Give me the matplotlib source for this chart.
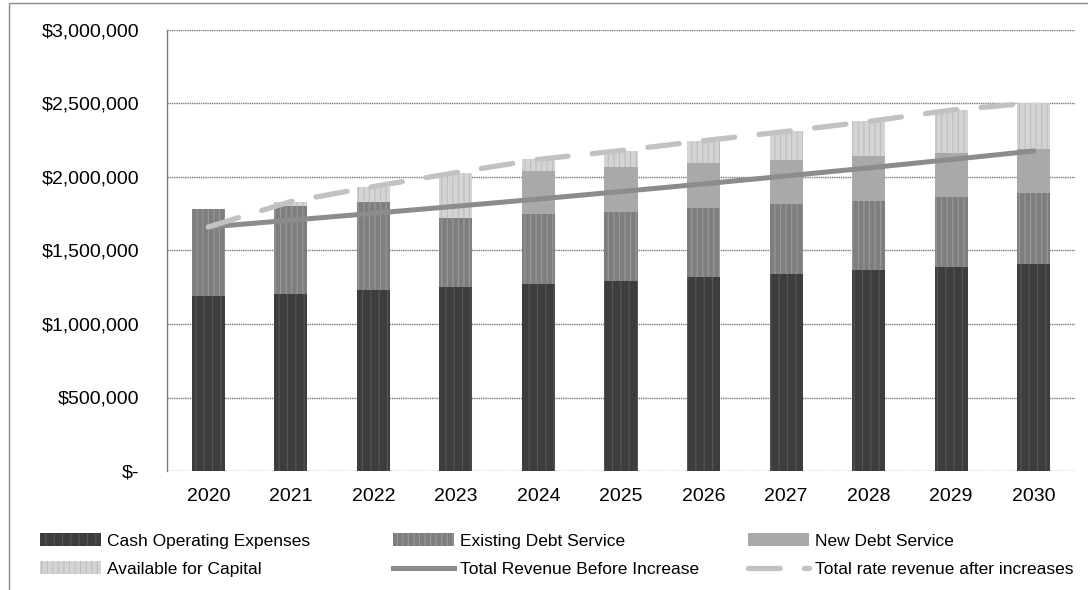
import matplotlib
matplotlib.use("Agg")
import matplotlib.pyplot as plt
from matplotlib.patches import Patch, Rectangle
from matplotlib.lines import Line2D
from matplotlib.ticker import FuncFormatter

plt.rcParams['font.family'] = ['Liberation Sans', 'DejaVu Sans']
plt.rcParams['hatch.linewidth'] = 0.8

years = ['2020', '2021', '2022', '2023', '2024', '2025', '2026', '2027', '2028', '2029', '2030']
cash_opex = [1190000, 1205000, 1230000, 1250000, 1270000, 1290000, 1317000, 1340000, 1365000, 1388000, 1410000]
existing_debt = [590000, 595000, 600000, 470000, 476000, 474000, 473000, 474000, 472000, 474000, 480000]
new_debt = [0, 0, 0, 0, 294000, 306000, 303000, 302000, 303000, 304000, 300000]
available = [0, 33000, 105000, 310000, 80000, 110000, 154000, 194000, 238000, 289000, 315000]
rev_before = [1660000, 1706000, 1753000, 1801000, 1850000, 1901000, 1953000, 2007000, 2062000, 2119000, 2177000]
rev_after = [1660000, 1833000, 1935000, 2030000, 2120000, 2180000, 2247000, 2310000, 2378000, 2455000, 2505000]

fig = plt.figure(figsize=(10.88, 5.90), dpi=100)
ax = fig.add_axes([167/1088, 119/590, 908/1088, 441/590])

x = list(range(len(years)))
w = 0.4
bottom1 = cash_opex
bottom2 = [a + b for a, b in zip(cash_opex, existing_debt)]
bottom3 = [a + b for a, b in zip(bottom2, new_debt)]

ax.bar(x, cash_opex, w, color='#3d3d3d', edgecolor='#575757', hatch='||', linewidth=0, zorder=2)
ax.bar(x, existing_debt, w, bottom=bottom1, color='#7e7e7e', edgecolor='#9a9a9a', hatch='|||', linewidth=0, zorder=2)
ax.bar(x, new_debt, w, bottom=bottom2, color='#a9a9a9', edgecolor='#a9a9a9', linewidth=0, zorder=2)
ax.bar(x, available, w, bottom=bottom3, color='#d4d4d4', edgecolor='#bdbdbd', hatch='|||', linewidth=0, zorder=2)

ax.plot(x, rev_before, color='#8c8c8c', lw=3.6, solid_capstyle='round', zorder=4)
ax.plot(x, rev_after, color='#c2c2c2', lw=3.8, dash_capstyle='round',
        dashes=(6.0, 4.6), zorder=5)

ax.set_xlim(-0.5, len(years) - 0.5)
ax.set_ylim(0, 3000000)
ax.set_yticks([0, 500000, 1000000, 1500000, 2000000, 2500000, 3000000])
ax.yaxis.set_major_formatter(FuncFormatter(lambda v, p: '$-' if v == 0 else '${:,.0f}'.format(v)))
ax.set_xticks(x)
ax.set_xticklabels(years)
ax.tick_params(axis='both', length=0, labelsize=14, colors='#000000')
ax.tick_params(axis='y', pad=20)
ax.tick_params(axis='x', pad=12)
ax.grid(axis='y', color='#7a7a7a', lw=1.0, linestyle=(0, (1, 0.6)), zorder=0)
for s in ['top', 'right', 'bottom']:
    ax.spines[s].set_visible(False)
ax.spines['left'].set_color('#7a7a7a')
ax.spines['left'].set_linewidth(1.0)

# outer chart border
fig.add_artist(Rectangle((9/1088, -0.01), 1.1, 587/590 + 0.01, transform=fig.transFigure,
                         fill=False, edgecolor='#8a8a8a', lw=1.0))

h_cash = Patch(facecolor='#3d3d3d', edgecolor='#575757', hatch='||', lw=0)
h_exist = Patch(facecolor='#7e7e7e', edgecolor='#9a9a9a', hatch='|||', lw=0)
h_new = Patch(facecolor='#a9a9a9', edgecolor='#a9a9a9', lw=0)
h_avail = Patch(facecolor='#d4d4d4', edgecolor='#bdbdbd', hatch='|||', lw=0)
h_l1 = Line2D([], [], color='#8c8c8c', lw=3.6)
h_l2 = Line2D([], [], color='#c2c2c2', lw=3.8, dashes=(6.0, 4.6), dash_capstyle='round')

cols = [([h_cash, h_avail], ['Cash Operating Expenses', 'Available for Capital'], 40),
        ([h_exist, h_l1], ['Existing Debt Service', 'Total Revenue Before Increase'], 393),
        ([h_new, h_l2], ['New Debt Service', 'Total rate revenue after increases'], 748)]
for hs, ls, xp in cols:
    fig.legend(hs, ls, loc='upper left', bbox_to_anchor=(xp/1088, 1 - 533/590),
               frameon=False, fontsize=12.5, handlelength=3.5, handleheight=0.8,
               handletextpad=0.35, labelspacing=0.72, borderpad=0, borderaxespad=0)

fig.savefig('out.png', dpi=100)
